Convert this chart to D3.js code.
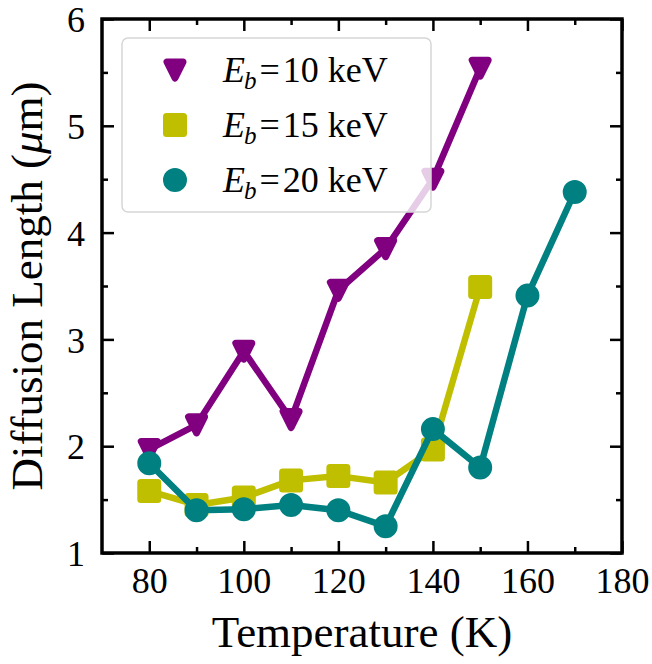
<!DOCTYPE html>
<html>
<head>
  <title>Diffusion length vs temperature</title>
  <script src="https://d3js.org/d3.v7.min.js"></script>
  <style>
  body {
    margin: 0;
    background: #fff;
  }

  svg {
    background: #fff;
  }

  text {
    font-family: "Liberation Serif", "Times New Roman", serif;
  }

  .tick text {
    font-size: 36px;
    fill: #000;
  }

  .tick line {
    stroke: #000;
    stroke-width: 2.5;
  }
  </style>
</head>
<body>
  <script>

    // data
    var temps10 = [80, 90, 100, 110, 120, 130, 140, 150];
    var length10 = [1.97, 2.20, 2.89, 2.25, 3.46, 3.85, 4.50, 5.54];

    var temps15 = [80, 90, 100, 110, 120, 130, 140, 150];
    var length15 = [1.58, 1.45, 1.52, 1.68, 1.72, 1.66, 1.97, 3.49];

    var temps20 = [80, 90, 100, 110, 120, 130, 140, 150, 160, 170];
    var length20 = [1.84, 1.40, 1.41, 1.45, 1.40, 1.25, 2.16, 1.80, 3.41, 4.38];

    var seriesNames = ["10", "15", "20"];
    var seriesColors = ["#800080", "#bfbf00", "#008080"];
    var seriesMarkers = ["triangleDown", "square", "circle"];

    var xMajor = [80, 100, 120, 140, 160, 180];
    var xMinor = [90, 110, 130, 150, 170];
    var yMajor = [1, 2, 3, 4, 5, 6];
    var yMinor = [1.5, 2.5, 3.5, 4.5, 5.5];

    var width = 652;
    var height = 664;
    var plotLeft = 102, plotRight = 622, plotTop = 19, plotBottom = 553;

    var svg = d3.select("body")
      .append("svg")
      .attr("width", width)
      .attr("height", height);

    var x = d3.scaleLinear().domain([70, 180]).range([plotLeft, plotRight]);
    var y = d3.scaleLinear().domain([1, 6]).range([plotBottom, plotTop]);

    // ticks point inward on all four sides
    function addAxis(axisFn, scale, values, size, pos, labels) {
      var axis = axisFn(scale)
        .tickValues(values)
        .tickSize(-size)
        .tickPadding(14)
        .tickFormat(labels ? d3.format("d") : "");
      var g = svg.append("g")
        .attr("transform", pos)
        .call(axis)
        .attr("font-family", null)
        .attr("font-size", null);
      g.select(".domain").remove();
      return g;
    }

    addAxis(d3.axisBottom, x, xMajor, 12, "translate(0," + plotBottom + ")", true);
    addAxis(d3.axisBottom, x, xMinor, 6, "translate(0," + plotBottom + ")", false);
    addAxis(d3.axisTop, x, xMajor, 12, "translate(0," + plotTop + ")", false);
    addAxis(d3.axisTop, x, xMinor, 6, "translate(0," + plotTop + ")", false);
    addAxis(d3.axisLeft, y, yMajor, 12, "translate(" + plotLeft + ",0)", true)
      .selectAll("text").attr("x", -17).attr("dy", "0.35em");
    addAxis(d3.axisLeft, y, yMinor, 6, "translate(" + plotLeft + ",0)", false);
    addAxis(d3.axisRight, y, yMajor, 12, "translate(" + plotRight + ",0)", false);
    addAxis(d3.axisRight, y, yMinor, 6, "translate(" + plotRight + ",0)", false);

    // marker shapes (drawn with a thick round-joined edge)
    function markerPath(kind) {
      if (kind === "triangleDown") return "M0,8L-8,-8L8,-8Z";
      if (kind === "square") return "M-8.5,-8.5L8.5,-8.5L8.5,8.5L-8.5,8.5Z";
      return d3.symbol().type(d3.symbolCircle).size(Math.PI * 8.5 * 8.5)();
    }

    var seriesData = [
      d3.zip(temps10, length10),
      d3.zip(temps15, length15),
      d3.zip(temps20, length20)
    ];

    var line = d3.line()
      .x(function(d) { return x(d[0]); })
      .y(function(d) { return y(d[1]); });

    seriesData.forEach(function(data, i) {
      var g = svg.append("g");
      g.append("path")
        .datum(data)
        .attr("d", line)
        .attr("fill", "none")
        .attr("stroke", seriesColors[i])
        .attr("stroke-width", 6.5)
        .attr("stroke-linejoin", "round");
      g.selectAll(".pt")
        .data(data)
        .enter()
        .append("path")
        .attr("class", "pt")
        .attr("d", markerPath(seriesMarkers[i]))
        .attr("transform", function(d) { return "translate(" + x(d[0]) + "," + y(d[1]) + ")"; })
        .attr("fill", seriesColors[i])
        .attr("stroke", seriesColors[i])
        .attr("stroke-width", 7)
        .attr("stroke-linejoin", "round");
    });

    // frame
    svg.append("rect")
      .attr("x", plotLeft)
      .attr("y", plotTop)
      .attr("width", plotRight - plotLeft)
      .attr("height", plotBottom - plotTop)
      .attr("fill", "none")
      .attr("stroke", "#000")
      .attr("stroke-width", 3.5);

    // legend
    var legend = svg.append("g");
    legend.append("rect")
      .attr("x", 122)
      .attr("y", 38)
      .attr("width", 309)
      .attr("height", 174)
      .attr("rx", 6)
      .attr("fill", "#fff")
      .attr("fill-opacity", 0.8)
      .attr("stroke", "#d6d6d6")
      .attr("stroke-width", 1.5);

    seriesNames.forEach(function(name, i) {
      var cy = 70 + i * 55;
      legend.append("path")
        .attr("d", markerPath(seriesMarkers[i]))
        .attr("transform", "translate(175," + cy + ")")
        .attr("fill", seriesColors[i])
        .attr("stroke", seriesColors[i])
        .attr("stroke-width", 7)
        .attr("stroke-linejoin", "round");
      var t = legend.append("text")
        .attr("x", 223)
        .attr("y", cy + 12)
        .attr("font-size", 36);
      t.append("tspan").attr("font-style", "italic").text("E");
      t.append("tspan").attr("font-style", "italic").attr("font-size", 25)
        .attr("dy", 7).attr("dx", -1).text("b");
      t.append("tspan").attr("dy", -7).attr("dx", 3).text("=");
      t.append("tspan").attr("dx", 3).text(name + " keV");
    });

    // axis labels
    svg.append("text")
      .attr("x", (plotLeft + plotRight) / 2)
      .attr("y", 647)
      .attr("text-anchor", "middle")
      .attr("font-size", 45)
      .text("Temperature (K)");

    var yl = svg.append("text")
      .attr("transform", "translate(42," + (plotTop + plotBottom) / 2 + ") rotate(-90)")
      .attr("text-anchor", "middle")
      .attr("font-size", 45);
    yl.append("tspan").text("Diffusion Length (");
    yl.append("tspan").attr("font-style", "italic").text("\u03bc");
    yl.append("tspan").text("m)");

  </script>
</body>
</html>
